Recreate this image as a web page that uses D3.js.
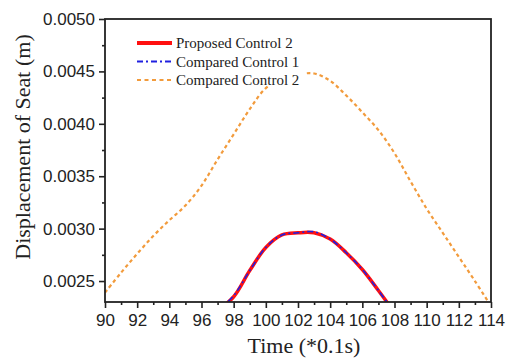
<!DOCTYPE html>
<html>
<head>
<meta charset="utf-8">
<script src="https://cdn.jsdelivr.net/npm/d3@7"></script>
<style>
  body { margin: 0; background: #fff; }
  svg { display: block; }
</style>
</head>
<body>
<div id="chart"><svg width="508" height="360"></svg></div>
<script>
// time axis (*0.1s)
var timeOrange = [90, 91, 92, 93, 94, 95, 96, 97, 98, 99, 100, 101, 102, 103, 104, 105, 106, 107, 108, 109, 110, 111, 112, 113, 114]
var comparedControl2 = [0.00239, 0.00258, 0.00276, 0.00293, 0.00308, 0.00322, 0.00341, 0.00366, 0.00390, 0.00414,
  0.00434, 0.00443, 0.00447, 0.00448, 0.00441, 0.00427, 0.00411, 0.00394, 0.00372, 0.00345,
  0.00319, 0.00296, 0.00273, 0.00250, 0.00226]

var timeRed = [97, 98, 99, 100, 101, 102, 103, 104, 105, 106, 107, 108]
var proposedControl2 = [0.00222, 0.00235, 0.00260, 0.00282, 0.00294, 0.00296, 0.00296, 0.00290, 0.00277, 0.00261, 0.00241, 0.00220]
var comparedControl1 = [0.00222, 0.00236, 0.00260, 0.00282, 0.00294, 0.00296, 0.00297, 0.00290, 0.00277, 0.00261, 0.00241, 0.00220]

var xTicks = [90, 92, 94, 96, 98, 100, 102, 104, 106, 108, 110, 112, 114]
var yTicks = [0.0025, 0.0030, 0.0035, 0.0040, 0.0045, 0.0050]
var legendLabels = ['Proposed Control 2', 'Compared Control 1', 'Compared Control 2']

var margin = {top: 19, right: 17, bottom: 58, left: 105}
var width = 508 - margin.left - margin.right
var height = 360 - margin.top - margin.bottom

var svg = d3.select('#chart svg')
var g = svg.append('g').attr('transform', 'translate(' + margin.left + ',' + margin.top + ')')

var x = d3.scaleLinear().domain([90, 114]).range([0, width])
var y = d3.scaleLinear().domain([0.0023, 0.0050]).range([height, 0])

g.append('clipPath').attr('id', 'clip')
  .append('rect').attr('width', width).attr('height', height)

var line = function (times) {
  return d3.line()
    .x(function (d, i) { return x(times[i]) })
    .y(function (d) { return y(d) })
    .curve(d3.curveCatmullRom.alpha(0.5))
}

var orange = '#f29b3c'
var red = '#ff1010'
var blue = '#2020e0'

var plot = g.append('g').attr('clip-path', 'url(#clip)')

plot.append('path')
  .datum(comparedControl2)
  .attr('d', line(timeOrange))
  .attr('fill', 'none')
  .attr('stroke', orange)
  .attr('stroke-width', 2.2)
  .attr('stroke-dasharray', '3.5,3')

plot.append('path')
  .datum(proposedControl2)
  .attr('d', line(timeRed))
  .attr('fill', 'none')
  .attr('stroke', red)
  .attr('stroke-width', 3.5)

plot.append('path')
  .datum(comparedControl1)
  .attr('d', line(timeRed))
  .attr('fill', 'none')
  .attr('stroke', blue)
  .attr('stroke-width', 1.6)
  .attr('stroke-dasharray', '6,3,2,3')

// axes
var tickFont = '"Liberation Sans", Arial, sans-serif'

var xAxis = g.append('g')
  .attr('transform', 'translate(0,' + height + ')')
  .call(d3.axisBottom(x).tickValues(xTicks).tickSize(6).tickPadding(6).tickFormat(d3.format('d')))
xAxis.selectAll('.tick text').attr('font-size', 17).attr('font-family', tickFont).attr('fill', '#222')

g.append('g')
  .attr('transform', 'translate(0,' + height + ')')
  .call(d3.axisBottom(x).tickValues(d3.range(91, 114, 2)).tickSize(3).tickFormat(''))

var yAxis = g.append('g')
  .call(d3.axisLeft(y).tickValues(yTicks).tickSize(6).tickPadding(4).tickFormat(d3.format('.4f')))
yAxis.selectAll('.tick text').attr('font-size', 17).attr('font-family', tickFont).attr('fill', '#222')

g.append('g')
  .call(d3.axisLeft(y).tickValues([0.00275, 0.00325, 0.00375, 0.00425, 0.00475]).tickSize(3).tickFormat(''))

g.selectAll('.domain').remove()
g.selectAll('.tick line').attr('stroke', '#222').attr('stroke-width', 1.6)

g.append('rect')
  .attr('width', width).attr('height', height)
  .attr('fill', 'none').attr('stroke', '#222').attr('stroke-width', 1.8)

// titles
var serif = '"Liberation Serif", "Times New Roman", serif'
svg.append('text')
  .attr('x', 304).attr('y', 353)
  .attr('text-anchor', 'middle')
  .attr('font-family', serif).attr('font-size', 22).attr('fill', '#222')
  .text('Time (*0.1s)')

svg.append('text')
  .attr('transform', 'translate(30,147) rotate(-90)')
  .attr('text-anchor', 'middle')
  .attr('font-family', serif).attr('font-size', 22).attr('fill', '#222')
  .text('Displacement of Seat (m)')

// legend
var legend = g.append('g').attr('transform', 'translate(32,24)')
legend.append('rect')
  .attr('x', -4).attr('y', -13).attr('width', 172).attr('height', 56)
  .attr('fill', '#fff')

var legendStyles = [
  {color: red, width: 4, dash: null},
  {color: blue, width: 1.8, dash: '6,3,2,3'},
  {color: orange, width: 2.2, dash: '4,3.5'}
]

legendLabels.forEach(function (label, i) {
  var row = legend.append('g').attr('transform', 'translate(0,' + (i * 18.5) + ')')
  row.append('line')
    .attr('x1', 0).attr('x2', 35).attr('y1', 0).attr('y2', 0)
    .attr('stroke', legendStyles[i].color)
    .attr('stroke-width', legendStyles[i].width)
    .attr('stroke-dasharray', legendStyles[i].dash)
  row.append('text')
    .attr('x', 39).attr('y', 5)
    .attr('font-family', serif).attr('font-size', 15).attr('fill', '#222')
    .text(label)
})
</script>
</body>
</html>
